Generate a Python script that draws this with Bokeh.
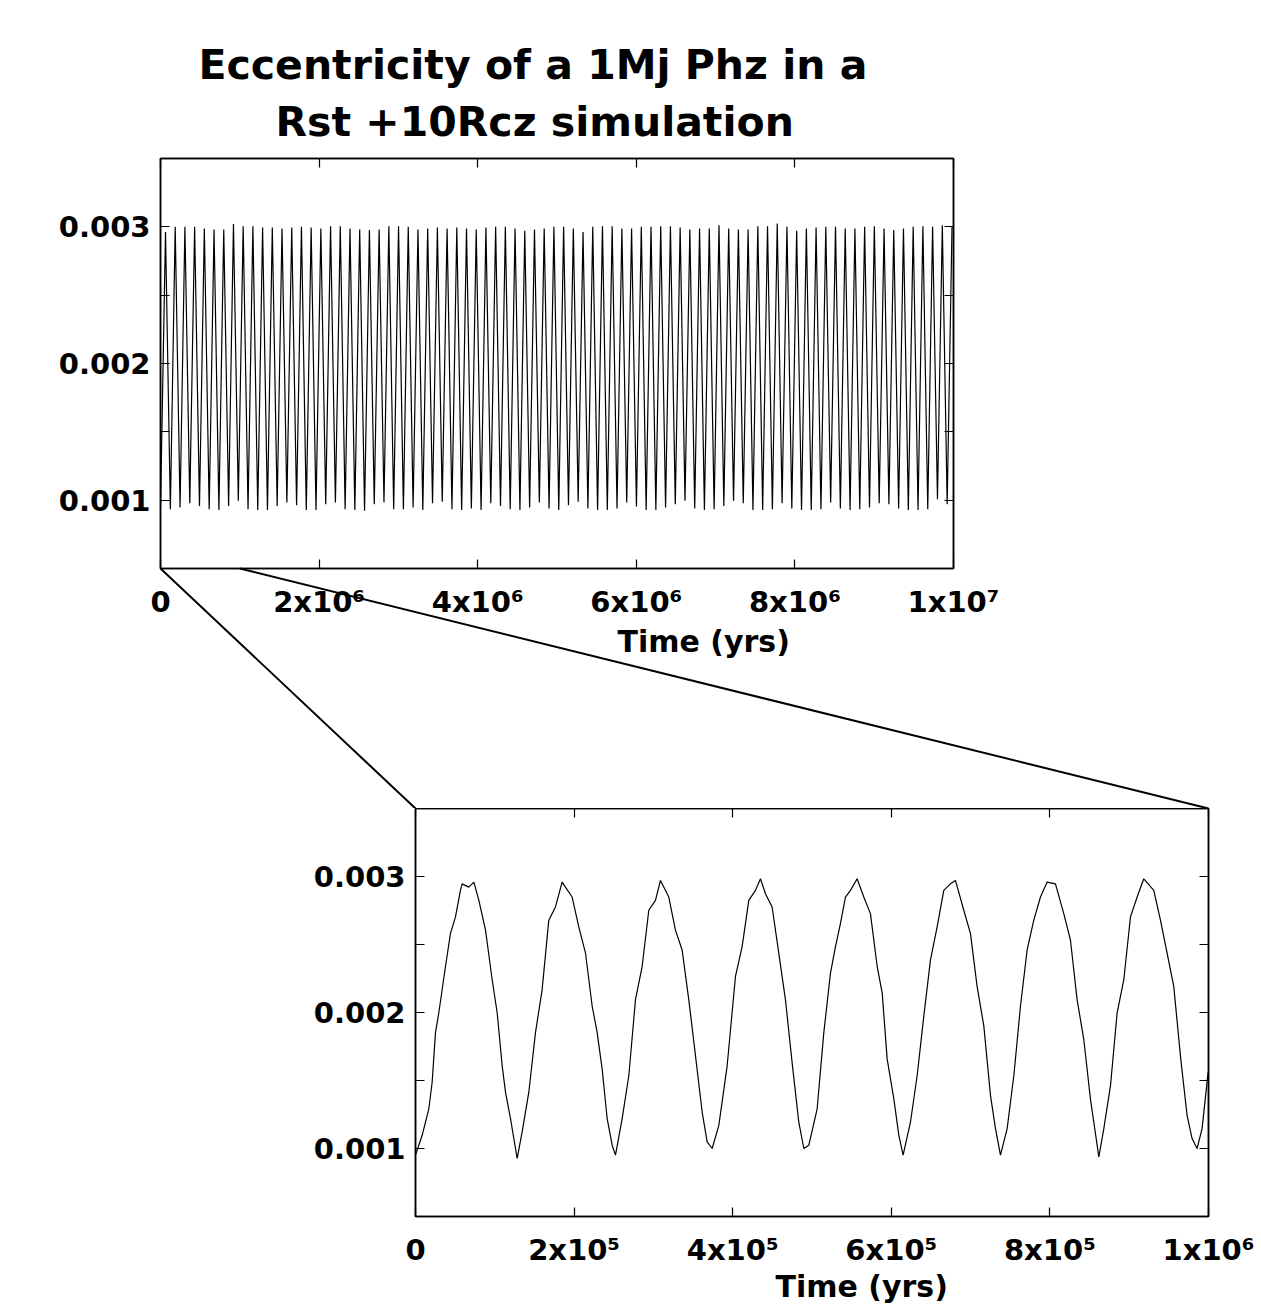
from bokeh.plotting import figure
from bokeh.models import FixedTicker, LinearAxis, Title, CustomJSTickFormatter, Range1d
from bokeh.layouts import column, row
from bokeh.embed import file_html
from bokeh.resources import INLINE

TITLE_LINES = ["Eccentricity of a 1Mj Phz in a", "Rst +10Rcz simulation"]
X_LABEL = "Time (yrs)"
Y_TICKS = [0.001, 0.002, 0.003]
Y_MINOR = [0.0015, 0.0025]
Y_TICK_LABELS = ["0.001", "0.002", "0.003"]
TOP_X_TICKS = [0, 2e6, 4e6, 6e6, 8e6, 1e7]
TOP_X_TICK_LABELS = ["0", "2x10\u2076", "4x10\u2076", "6x10\u2076", "8x10\u2076", "1x10\u2077"]
BOT_X_TICKS = [0, 2e5, 4e5, 6e5, 8e5, 1e6]
BOT_X_TICK_LABELS = ["0", "2x10\u2075", "4x10\u2075", "6x10\u2075", "8x10\u2075", "1x10\u2076"]
ZOOM_WINDOW = [0, 1e6]

# full run: extrema (one peak and one trough per cycle)
PERIOD = 122450.0
FIRST_PEAK = 63000.0
TOP_START = 0.00095
TOP_PEAKS = [
    0.002963, 0.003, 0.003, 0.003, 0.002988, 0.00298, 0.00298, 0.00302, 0.003005, 0.003005,
    0.002995, 0.002995, 0.002988, 0.002995, 0.003, 0.002995, 0.002988, 0.003005, 0.003005, 0.002988,
    0.00298, 0.002976, 0.00298, 0.003005, 0.003005, 0.003, 0.00298, 0.002988, 0.002995, 0.002988,
    0.002995, 0.002988, 0.00298, 0.002995, 0.003, 0.003, 0.002988, 0.002971, 0.00298, 0.002988,
    0.003, 0.003, 0.002988, 0.002963, 0.003, 0.003005, 0.003005, 0.002988, 0.002988, 0.003,
    0.003, 0.003005, 0.003005, 0.002995, 0.00298, 0.002988, 0.002988, 0.003012, 0.002988, 0.00298,
    0.00298, 0.003005, 0.003005, 0.003024, 0.003, 0.002971, 0.002988, 0.002995, 0.003, 0.003,
    0.002988, 0.002988, 0.003, 0.003005, 0.002988, 0.002976, 0.002988, 0.003, 0.003005, 0.003,
    0.003012, 0.003005,
]
TOP_TROUGHS = [
    0.000934, 0.000946, 0.000978, 0.000958, 0.000934, 0.000929, 0.000958, 0.000995, 0.000934, 0.000929,
    0.000929, 0.000958, 0.000983, 0.000963, 0.000929, 0.000929, 0.000971, 0.000983, 0.000934, 0.000929,
    0.000922, 0.000971, 0.000983, 0.000934, 0.000934, 0.000946, 0.000929, 0.000978, 0.000988, 0.000934,
    0.000929, 0.000939, 0.000929, 0.000978, 0.000958, 0.000934, 0.000929, 0.000946, 0.000983, 0.000939,
    0.000929,
    0.000963, 0.000988, 0.000939, 0.000929, 0.000929, 0.000939, 0.000983, 0.000954, 0.000929, 0.000929,
    0.000946, 0.000971, 0.000995, 0.000939, 0.000929, 0.000934, 0.000958, 0.000995, 0.000978, 0.000929,
    0.000929, 0.000934, 0.000978, 0.000939, 0.000929, 0.000929, 0.000934, 0.000983, 0.000939, 0.000929,
    0.000934, 0.000946, 0.000978, 0.000971, 0.000939, 0.000929, 0.000929, 0.000934, 0.001007, 0.000971,
]

# zoomed first 1e6 yrs
BOT_T = [
    0, 8400, 16800, 21000, 25200, 29400, 37800, 44100, 50400, 56700, 58800, 67200, 73600, 79900,
    88300, 96700, 103000, 109300, 113500, 119800, 126100, 128200, 134500, 142900, 151300, 159700,
    168100, 176500, 184900, 189100, 197500, 205900, 214400, 222800, 229100, 235400, 241700, 248000,
    252200, 260600, 269000, 277400, 285800, 294200, 302600, 308900, 319400, 327800, 336200, 344600,
    353100, 361500, 367800, 374100, 382500, 393000, 403500, 411900, 420300, 428700, 435000, 441300,
    449700, 458100, 466500, 474900, 483300, 489700, 496000,
    506500, 514900, 523300, 529600, 535900, 542200, 548500, 556900, 565300, 573700, 582200, 588500,
    594800, 603200, 609500, 614900, 624200, 632600, 641000, 649400, 657800, 666200, 674600, 680900,
    691400, 699800, 708200, 716700, 725100, 731400, 737700, 746100, 754500, 762900, 771300, 779700,
    788100, 796500, 807000, 817500, 825900, 834300, 842700, 851100, 861700, 868000, 876400, 884800,
    893200, 901600, 910000, 918400, 931000, 939400, 947800, 956200, 964600, 973000, 979300, 985600,
    991900, 999500,
]
BOT_E = [
    0.000951, 0.001097, 0.001292, 0.001487, 0.001852, 0.001998, 0.002338, 0.002582, 0.002703, 0.002898,
    0.002946, 0.002922, 0.002959, 0.002825, 0.002606, 0.002241, 0.001998, 0.001608, 0.001414, 0.001219,
    0.001000, 0.000927, 0.001122, 0.001414, 0.001852, 0.002168, 0.002679, 0.002776, 0.002959, 0.002922,
    0.002849, 0.002630, 0.002436, 0.002046, 0.001852, 0.001584, 0.001219, 0.001024, 0.000951, 0.001219,
    0.001535, 0.002095, 0.002338, 0.002752, 0.002825, 0.002971, 0.002849, 0.002606, 0.002460, 0.002095,
    0.001681, 0.001268, 0.001049, 0.001000, 0.001170, 0.001608, 0.002265, 0.002484, 0.002825, 0.002898,
    0.002983, 0.002873, 0.002776, 0.002436, 0.002095, 0.001633, 0.001195, 0.001000, 0.001024,
    0.001292, 0.001852, 0.002290, 0.002484, 0.002655, 0.002849, 0.002898, 0.002983, 0.002849, 0.002727,
    0.002338, 0.002144, 0.001657, 0.001365, 0.001097, 0.000951, 0.001195, 0.001535, 0.001973, 0.002387,
    0.002630, 0.002898, 0.002946, 0.002971, 0.002752, 0.002582, 0.002192, 0.001900, 0.001389, 0.001146,
    0.000951, 0.001146, 0.001535, 0.002046, 0.002460, 0.002679, 0.002849, 0.002959, 0.002946, 0.002727,
    0.002533, 0.002095, 0.001803, 0.001365, 0.000939, 0.001146, 0.001462, 0.001998, 0.002241, 0.002703,
    0.002849, 0.002983, 0.002898, 0.002679, 0.002436, 0.002192, 0.001681, 0.001243, 0.001073, 0.001000,
    0.001146, 0.001560,
]

Y_RANGE = (0.0005, 0.0035)
FONT = "DejaVu Sans"

top_t = [0.0]
top_e = [TOP_START]
for k, pk in enumerate(TOP_PEAKS):
    top_t.append(FIRST_PEAK + k * PERIOD)
    top_e.append(pk)
    if k < len(TOP_TROUGHS):
        top_t.append(FIRST_PEAK + k * PERIOD + PERIOD / 2)
        top_e.append(TOP_TROUGHS[k])


def style_panel(p, xticks, xlabels):
    p.outline_line_color = "black"
    p.outline_line_width = 1.5
    p.grid.visible = False
    p.background_fill_color = "white"
    p.border_fill_color = "white"
    if "frame_align" in p.properties():
        p.frame_align = False
    xa = p.xaxis[0]
    ya = p.yaxis[0]
    xa.ticker = FixedTicker(ticks=xticks, minor_ticks=[])
    xa.major_label_overrides = {t: l for t, l in zip(xticks, xlabels)}
    ya.ticker = FixedTicker(ticks=Y_TICKS, minor_ticks=Y_MINOR)
    ya.major_label_overrides = {t: l for t, l in zip(Y_TICKS, Y_TICK_LABELS)}
    for ax in (xa, ya):
        ax.axis_line_color = "black"
        ax.axis_line_width = 1.5
        ax.major_tick_in = 9
        ax.major_tick_out = 0
        ax.minor_tick_in = 9
        ax.minor_tick_out = 0
        ax.major_tick_line_color = "black"
        ax.minor_tick_line_color = "black"
        ax.major_tick_line_width = 1.2
        ax.minor_tick_line_width = 1.2
        ax.major_label_text_font = FONT
        ax.major_label_text_font_style = "bold"
        ax.major_label_text_font_size = "29px"
        ax.major_label_text_color = "black"
    xa.major_label_standoff = 16
    ya.major_label_standoff = 10
    empty = CustomJSTickFormatter(code="return ''")
    top_ax = LinearAxis(ticker=FixedTicker(ticks=xticks, minor_ticks=[]), formatter=empty,
                        major_tick_in=9, major_tick_out=0, major_label_standoff=0,
                        axis_line_color="black", axis_line_width=1.5,
                        major_tick_line_color="black", major_tick_line_width=1.2)
    right_ax = LinearAxis(ticker=FixedTicker(ticks=Y_TICKS, minor_ticks=Y_MINOR), formatter=empty,
                          major_tick_in=9, major_tick_out=0, minor_tick_in=9, minor_tick_out=0,
                          major_label_standoff=0,
                          axis_line_color="black", axis_line_width=1.5,
                          major_tick_line_color="black", minor_tick_line_color="black",
                          major_tick_line_width=1.2, minor_tick_line_width=1.2)
    p.add_layout(top_ax, "above")
    p.add_layout(right_ax, "right")


# ---------- top panel ----------
p1 = figure(frame_width=793, frame_height=410, min_border_left=160, min_border_right=308,
            min_border_top=158, min_border_bottom=240,
            x_range=Range1d(0, 1e7), y_range=Range1d(*Y_RANGE),
            output_backend="svg", toolbar_location=None)
style_panel(p1, TOP_X_TICKS, TOP_X_TICK_LABELS)
p1.line(top_t, top_e, line_color="black", line_width=1.2)

p1.add_layout(Title(text=TITLE_LINES[1], align="left", offset=115, text_font=FONT,
                    text_font_style="bold", text_font_size="41px", text_color="black",
                    standoff=25), "above")
p1.add_layout(Title(text=TITLE_LINES[0], align="left", offset=38, text_font=FONT,
                    text_font_style="bold", text_font_size="41px", text_color="black",
                    standoff=-10), "above")
p1.add_layout(Title(text=X_LABEL, align="left", offset=457, text_font=FONT,
                    text_font_style="bold", text_font_size="30px", text_color="black",
                    standoff=0), "below")

# zoom connector lines, drawn in the top panel's data coordinates
y_conn = Y_RANGE[0] - 240 * (Y_RANGE[1] - Y_RANGE[0]) / 410
x_left = 255 * 1e7 / 793
x_right = 1048 * 1e7 / 793
p1.segment(x0=[ZOOM_WINDOW[0], ZOOM_WINDOW[1]], y0=[Y_RANGE[0], Y_RANGE[0]],
           x1=[x_left, x_right], y1=[y_conn, y_conn],
           line_color="black", line_width=2, level="overlay")

# ---------- bottom panel ----------
p2 = figure(frame_width=793, frame_height=408, min_border_left=415, min_border_right=53,
            min_border_top=0, min_border_bottom=89,
            x_range=Range1d(*ZOOM_WINDOW), y_range=Range1d(*Y_RANGE),
            output_backend="svg", toolbar_location=None)
style_panel(p2, BOT_X_TICKS, BOT_X_TICK_LABELS)
p2.line(BOT_T, BOT_E, line_color="black", line_width=1.2)
p2.add_layout(Title(text=X_LABEL, align="left", offset=360, text_font=FONT,
                    text_font_style="bold", text_font_size="30px", text_color="black",
                    standoff=-5), "below")

if "frame_align" in p1.properties():
    layout = column(p1, p2, spacing=0)
else:
    layout = column(row(p1), row(p2), spacing=0)
open("out.html", "w").write(file_html(layout, INLINE))
